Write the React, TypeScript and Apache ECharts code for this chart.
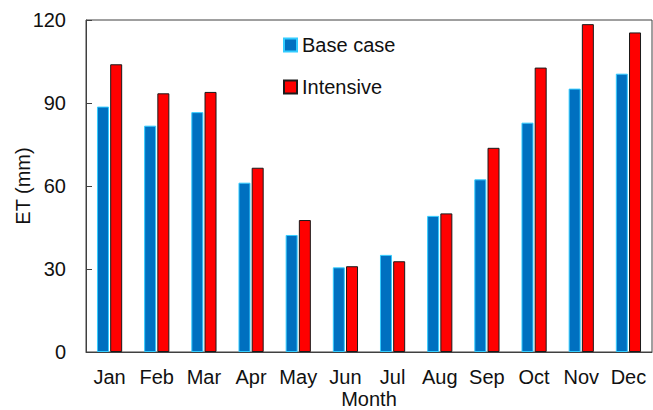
import React, { useEffect, useRef } from "react";
import * as echarts from "echarts";

const months = ["Jan", "Feb", "Mar", "Apr", "May", "Jun", "Jul", "Aug", "Sep", "Oct", "Nov", "Dec"];
const baseCase = [88.7, 81.8, 86.7, 61.2, 42.3, 30.6, 35.1, 49.2, 62.4, 82.9, 95.2, 100.6];
const intensive = [104.0, 93.5, 94.0, 66.6, 47.7, 31.0, 32.8, 50.1, 73.8, 102.8, 118.5, 115.5];
const yTicks = [0, 30, 60, 90, 120];

export default function App() {
  const ref = useRef<HTMLDivElement>(null);
  useEffect(() => {
    if (!ref.current) return;
    const chart = echarts.init(ref.current, undefined, { renderer: "svg" });
    const font = "Liberation Sans, Arial, sans-serif";
    chart.setOption({
      animation: false,
      textStyle: { fontFamily: font },
      grid: {
        left: 86,
        top: 20,
        right: 1,
        bottom: 58,
        containLabel: false,
        outerBoundsMode: "none",
        show: true,
        borderColor: "#404040",
        borderWidth: 1,
        backgroundColor: "transparent",
      },
      legend: {
        orient: "vertical",
        left: 283,
        top: 35,
        padding: 0,
        itemWidth: 13,
        itemHeight: 13,
        itemGap: 22,
        icon: "rect",
        textStyle: { fontSize: 20, color: "#111", fontFamily: font },
        data: ["Base case", "Intensive"],
      },
      xAxis: {
        type: "category",
        data: months,
        name: "Month",
        nameLocation: "middle",
        nameGap: 37,
        nameMoveOverlap: false,
        nameTextStyle: { fontSize: 20, lineHeight: 20, color: "#111", fontFamily: font },
        axisLine: { lineStyle: { color: "#404040", width: 1 } },
        axisTick: { show: false },
        axisLabel: { fontSize: 20, color: "#111", margin: 15, fontFamily: font, interval: 0, hideOverlap: false },
      },
      yAxis: {
        type: "value",
        min: yTicks[0],
        max: yTicks[yTicks.length - 1],
        interval: 30,
        name: "ET (mm)",
        nameLocation: "middle",
        nameGap: 53,
        nameMoveOverlap: false,
        nameTextStyle: { fontSize: 20, lineHeight: 20, color: "#111", fontFamily: font },
        axisLine: { show: true, lineStyle: { color: "#404040", width: 1 } },
        axisTick: { show: true, inside: true, length: 6, lineStyle: { color: "#404040" } },
        axisLabel: { fontSize: 20, color: "#111", margin: 20, fontFamily: font },
        splitLine: { show: false },
      },
      series: [
        {
          name: "Base case",
          type: "bar",
          data: baseCase,
          barWidth: 12,
          barGap: "10%",
          itemStyle: { color: "#0070C0", borderColor: "#33CCFF", borderWidth: 1 },
        },
        {
          name: "Intensive",
          type: "bar",
          data: intensive,
          barWidth: 12,
          barGap: "10%",
          itemStyle: { color: "#FF0000", borderColor: "#1a1a1a", borderWidth: 1 },
        },
      ],
    });
    return () => chart.dispose();
  }, []);
  return <div ref={ref} style={{ width: 653, height: 410, position: "absolute", left: 0, top: 0 }} />;
}
